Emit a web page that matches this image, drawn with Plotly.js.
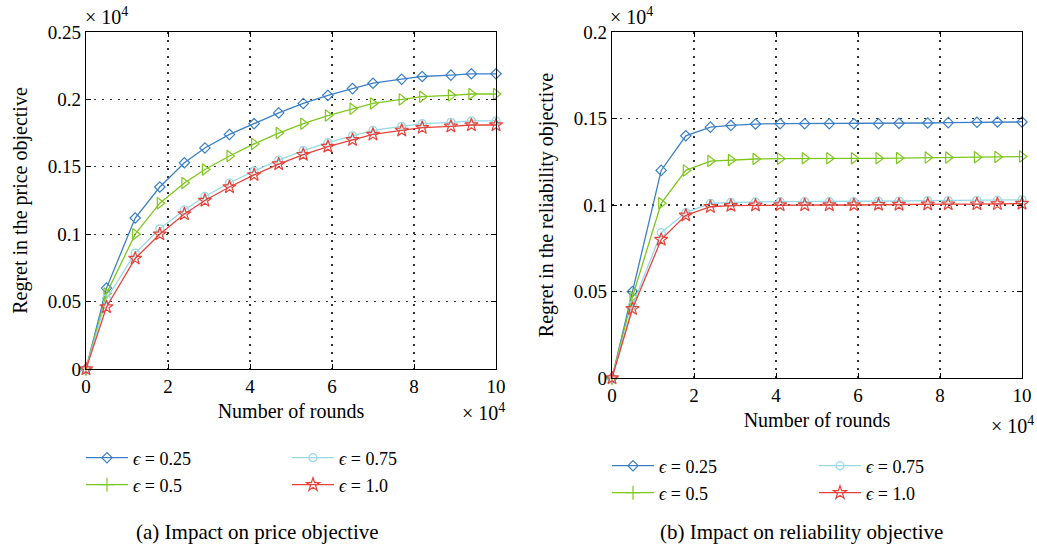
<!DOCTYPE html>
<html>
<head>
<meta charset="utf-8">
<script src="https://cdn.plot.ly/plotly-3.0.1.min.js"></script>
<style>html,body{margin:0;padding:0;background:#fff;}#chart{width:1037px;height:552px;}</style>
</head>
<body>
<div id="chart"></div>
<script>
// Rounds (x 10^4)
var rounds = [0, 0.5, 1.2, 1.8, 2.4, 2.9, 3.5, 4.1, 4.7, 5.3, 5.9, 6.5, 7.0, 7.7, 8.2, 8.9, 9.4, 10];
var seriesNames = ["ϵ = 0.25", "ϵ = 0.5", "ϵ = 0.75", "ϵ = 1.0"];

// (a) Regret in the price objective (x 10^4)
var price_e025 = [0, 0.060, 0.112, 0.135, 0.153, 0.164, 0.174, 0.182, 0.190, 0.197, 0.203, 0.208, 0.212, 0.215, 0.217, 0.218, 0.219, 0.219];
var price_e05  = [0, 0.056, 0.100, 0.123, 0.138, 0.148, 0.158, 0.167, 0.175, 0.182, 0.188, 0.193, 0.197, 0.200, 0.202, 0.203, 0.204, 0.204];
var price_e075 = [0, 0.052, 0.086, 0.104, 0.118, 0.128, 0.138, 0.147, 0.155, 0.162, 0.168, 0.173, 0.177, 0.180, 0.182, 0.183, 0.184, 0.184];
var price_e10  = [0, 0.046, 0.082, 0.100, 0.115, 0.125, 0.135, 0.144, 0.152, 0.159, 0.165, 0.170, 0.174, 0.177, 0.179, 0.180, 0.181, 0.181];

// (b) Regret in the reliability objective (x 10^4)
var rel_e025 = [0, 0.050, 0.120, 0.140, 0.145, 0.146, 0.1468, 0.147, 0.147, 0.147, 0.147, 0.147, 0.1472, 0.1474, 0.1476, 0.1478, 0.148, 0.148];
var rel_e05  = [0, 0.047, 0.101, 0.120, 0.1254, 0.126, 0.1266, 0.1268, 0.127, 0.127, 0.127, 0.127, 0.1272, 0.1274, 0.1275, 0.1276, 0.1278, 0.128];
var rel_e075 = [0, 0.042, 0.084, 0.0956, 0.101, 0.1015, 0.1018, 0.102, 0.102, 0.102, 0.102, 0.1022, 0.1023, 0.1025, 0.1026, 0.1027, 0.1028, 0.103];
var rel_e10  = [0, 0.040, 0.080, 0.094, 0.099, 0.0996, 0.0998, 0.100, 0.100, 0.100, 0.100, 0.1002, 0.1003, 0.1004, 0.1005, 0.1005, 0.1006, 0.1008];

var colors = ["#3b7fc6", "#7ec61e", "#96d9e4", "#e8433b"];
var symbols = ["diamond-open", "triangle-right-open", "circle-open", "star-open"];
var sizes = [8, 10, 8, 10];

var FONT = "Liberation Serif, 'DejaVu Serif', serif";

function mk(xs, ys, i, xa, ya, leg) {
  var sym = symbols[i];
  if (i === 1) {
    // the legend key of this series shows a "+" (first point sits hidden under the others at the origin)
    sym = xs.map(function (_, k) { return k === 0 ? "cross-thin-open" : "triangle-right-open"; });
  }
  return {
    x: xs, y: ys, xaxis: xa, yaxis: ya,
    type: "scatter", mode: "lines+markers",
    name: "<i>ϵ</i>" + seriesNames[i].slice(1),
    line: {color: colors[i], width: 1.3},
    marker: {symbol: sym, size: sizes[i], color: colors[i], line: {color: colors[i], width: 1.2}},
    cliponaxis: false,
    legend: leg
  };
}

var data = [
  mk(rounds, price_e025, 0, "x", "y", "legend"),
  mk(rounds, price_e05, 1, "x", "y", "legend2"),
  mk(rounds, price_e075, 2, "x", "y", "legend3"),
  mk(rounds, price_e10, 3, "x", "y", "legend4"),
  mk(rounds, rel_e025, 0, "x2", "y2", "legend5"),
  mk(rounds, rel_e05, 1, "x2", "y2", "legend6"),
  mk(rounds, rel_e075, 2, "x2", "y2", "legend7"),
  mk(rounds, rel_e10, 3, "x2", "y2", "legend8")
];

function axisBase() {
  return {
    showline: true, linecolor: "#000", linewidth: 1.3, mirror: "ticks",
    ticks: "inside", ticklen: 5, tickcolor: "#000", tickwidth: 1,
    showgrid: true, gridcolor: "#333", griddash: "1.5px,6.5px", gridwidth: 1.2,
    zeroline: false, tickfont: {family: FONT, size: 19, color: "#000"},
    fixedrange: true
  };
}

var W = 1037, H = 552;
function px(x) { return x / W; }
function py(y) { return 1 - y / H; }

var titleFont = {family: FONT, size: 20, color: "#000"};
var xa1 = Object.assign(axisBase(), {domain: [px(86), px(496)], range: [0, 10], dtick: 2, tick0: 0, anchor: "y",
  title: {text: "Number of rounds", font: titleFont, standoff: 8}});
var ya1 = Object.assign(axisBase(), {domain: [py(369), py(32)], range: [0, 0.25], dtick: 0.05, tick0: 0, anchor: "x",
  title: {text: "Regret in the price objective", font: titleFont, standoff: 14}});
var xa2 = Object.assign(axisBase(), {domain: [px(612), px(1022)], range: [0, 10], dtick: 2, tick0: 0, anchor: "y2",
  title: {text: "Number of rounds", font: titleFont, standoff: 8}});
var ya2 = Object.assign(axisBase(), {domain: [py(378), py(32)], range: [0, 0.2], dtick: 0.05, tick0: 0, anchor: "x2",
  title: {text: "Regret in the reliability objective", font: titleFont, standoff: 14}});

function leg(xp, yp) {
  return {x: px(xp), y: py(yp), xanchor: "left", yanchor: "middle", xref: "paper", yref: "paper",
    bgcolor: "rgba(0,0,0,0)", borderwidth: 0, itemwidth: 42,
    font: {family: FONT, size: 18, color: "#000"}};
}

var annFont = {family: FONT, size: 20, color: "#000"};
var capFont = {family: FONT, size: 21, color: "#000"};
var layout = {
  width: W, height: H,
  margin: {l: 0, r: 0, t: 0, b: 0},
  paper_bgcolor: "#fff", plot_bgcolor: "#fff",
  font: {family: FONT, size: 18, color: "#000"},
  showlegend: true,
  xaxis: xa1, yaxis: ya1, xaxis2: xa2, yaxis2: ya2,
  legend: leg(81, 458), legend2: leg(81, 485), legend3: leg(287, 458), legend4: leg(287, 485),
  legend5: leg(607, 466), legend6: leg(607, 493), legend7: leg(814, 466), legend8: leg(814, 493),
  annotations: [
    {text: "× 10<sup>4</sup>", xref: "paper", yref: "paper", x: px(83), y: py(16), xanchor: "left", yanchor: "middle", showarrow: false, font: annFont},
    {text: "× 10<sup>4</sup>", xref: "paper", yref: "paper", x: px(507), y: py(412), xanchor: "right", yanchor: "middle", showarrow: false, font: annFont},
    {text: "× 10<sup>4</sup>", xref: "paper", yref: "paper", x: px(608), y: py(16), xanchor: "left", yanchor: "middle", showarrow: false, font: annFont},
    {text: "× 10<sup>4</sup>", xref: "paper", yref: "paper", x: px(1036), y: py(425), xanchor: "right", yanchor: "middle", showarrow: false, font: annFont},
    {text: "(a) Impact on price objective", xref: "paper", yref: "paper", x: px(257), y: py(532), xanchor: "center", yanchor: "middle", showarrow: false, font: capFont},
    {text: "(b) Impact on reliability objective", xref: "paper", yref: "paper", x: px(801), y: py(532), xanchor: "center", yanchor: "middle", showarrow: false, font: capFont}
  ]
};

Plotly.newPlot("chart", data, layout, {displayModeBar: false, staticPlot: true});
</script>
</body>
</html>
